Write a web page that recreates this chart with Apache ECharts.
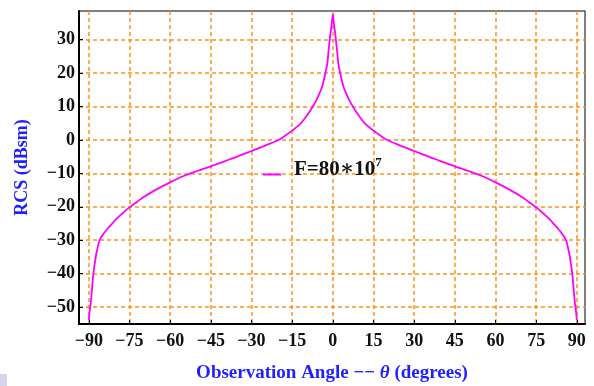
<!DOCTYPE html>
<html>
<head>
<meta charset="utf-8">
<script src="https://cdn.jsdelivr.net/npm/echarts@6/dist/echarts.min.js"></script>
<style>
  html, body { margin: 0; padding: 0; background: #fff; }
  #chart { width: 594px; height: 386px; }
</style>
</head>
<body>
<div id="chart"></div>
<script>
// observation angle (degrees) and RCS (dBsm)
const angles = [
  -90, -89.7, -89.3, -89, -88.7, -88.3, -87.8, -87.2, -86.6, -86, -85, -84, -83, -82, -80, -78,
  -75, -72, -70, -65, -60, -55, -50, -45, -40, -35, -30, -25, -20, -17.5, -15, -12, -10,
  -8, -7.4, -6, -5, -4, -3, -2, -1.6, -1.2, -0.9, -0.6, -0.3, 0,
  0.3, 0.6, 0.9, 1.2, 1.6, 2, 3, 4, 5, 6, 7.4, 8,
  10, 12, 15, 17.5, 20, 25, 30, 35, 40, 45, 50, 55, 60, 65, 70, 72, 75,
  78, 80, 82, 83, 84, 85, 86, 86.6, 87.2, 87.8, 88.3, 88.7, 89, 89.3, 89.7, 90
];
const rcs = [
  -54, -51.5, -49, -46.5, -43.5, -40, -37, -34, -31.8, -30, -28.6, -27.5, -26.5, -25.6, -23.8, -22.3,
  -20.2, -18.4, -17.2, -14.8, -12.7, -10.8, -9.3, -7.9, -6.4, -4.9, -3.3, -1.7, 0, 1.3, 2.8, 4.8, 6.8,
  9.2, 10, 12, 13.8, 15.8, 19, 23, 26.5, 29.5, 31.8, 33.5, 35.5, 37.5,
  35.5, 33.5, 31.8, 29.5, 26.5, 23, 19, 15.8, 13.8, 12, 10, 9.2,
  6.8, 4.8, 2.8, 1.3, 0, -1.7, -3.3, -4.9, -6.4, -7.9, -9.3, -10.8, -12.7, -14.8, -17.2, -18.4, -20.2,
  -22.3, -23.8, -25.6, -26.5, -27.5, -28.6, -30, -31.8, -34, -37, -40, -43.5, -46.5, -49, -51.5, -54
];
const xTicks = [-90, -75, -60, -45, -30, -15, 0, 15, 30, 45, 60, 75, 90];
const yTicks = [-50, -40, -30, -20, -10, 0, 10, 20, 30];

const serif = '"Liberation Serif", "DejaVu Serif", serif';
const gridColor = '#f7941d';
const fmtNum = v => (v < 0 ? '\u2212' + Math.abs(v) : String(v));

const chart = echarts.init(document.getElementById('chart'));
chart.setOption({
  animation: false,
  grid: {
    left: 79, right: 9, top: 11, bottom: 62,
    outerBoundsMode: 'none',
    show: true,
    borderColor: '#555',
    borderWidth: 1.5,
  },
  legend: {
    left: 258,
    top: 151,
    // short line drawn low in its box, so it sits below the text centre
    icon: 'path://M0,0L18,0L18,0.01L0,0.01ZM0,10L18,10L18,12L0,12Z',
    itemWidth: 18,
    itemHeight: 12,
    selectedMode: false,
    data: ['F'],
    formatter: () => '{a|F=80\u221710}{s|7}',
    textStyle: {
      padding: [0, 0, 0, 8],
      rich: {
        a: { fontFamily: serif, fontWeight: 'bold', fontSize: 21, color: '#111' },
        s: { fontFamily: serif, fontWeight: 'bold', fontSize: 13, color: '#111', padding: [0, 0, 14, 0] },
      },
    },
  },
  xAxis: {
    type: 'value',
    min: -93.6,
    max: 93.0,
    name: '{b|Observation Angle \u2212\u2212 }{i|\u03b8}{b| (degrees)}',
    nameLocation: 'middle',
    nameGap: 40,
    nameTextStyle: {
      rich: {
        b: { fontFamily: serif, fontWeight: 'bold', fontSize: 19, color: '#1f1fff' },
        i: { fontFamily: serif, fontWeight: 'bold', fontStyle: 'italic', fontSize: 19, color: '#1f1fff' },
      },
    },
    axisLine: { show: true, onZero: false, lineStyle: { color: '#000', width: 2 } },
    axisTick: { show: true, inside: true, length: 4, customValues: xTicks, lineStyle: { color: '#000' } },
    axisLabel: {
      customValues: xTicks,
      formatter: fmtNum,
      fontFamily: serif, fontWeight: 'bold', fontSize: 18, color: '#111', margin: 8,
    },
    splitLine: { show: true, lineStyle: { color: gridColor, type: [4, 3], width: 1.5 } },
  },
  yAxis: {
    type: 'value',
    min: -55.1,
    max: 38.6,
    name: 'RCS (dBsm)',
    nameLocation: 'middle',
    nameGap: 48,
    nameTextStyle: { fontFamily: serif, fontWeight: 'bold', fontSize: 18, color: '#1f1fff' },
    axisLine: { show: true, onZero: false, lineStyle: { color: '#000', width: 2 } },
    axisTick: { show: true, inside: true, length: 4, customValues: yTicks, lineStyle: { color: '#000' } },
    axisLabel: {
      customValues: yTicks,
      formatter: fmtNum,
      fontFamily: serif, fontWeight: 'bold', fontSize: 18, color: '#111', margin: 4,
    },
    splitLine: { show: true, lineStyle: { color: gridColor, type: [4, 3], width: 1.5 } },
  },
  series: [
    {
      name: 'F',
      type: 'line',
      showSymbol: false,
      smooth: 0.3,
      lineStyle: { color: '#ff00ff', width: 1.8 },
      itemStyle: { color: '#ff00ff' },
      data: angles.map((a, i) => [a, rcs[i]]),
    },
  ],
  graphic: [
    { type: 'rect', left: 0, top: 374, shape: { width: 7, height: 12 }, style: { fill: '#d4d6ee' } },
  ],
});
</script>
</body>
</html>
